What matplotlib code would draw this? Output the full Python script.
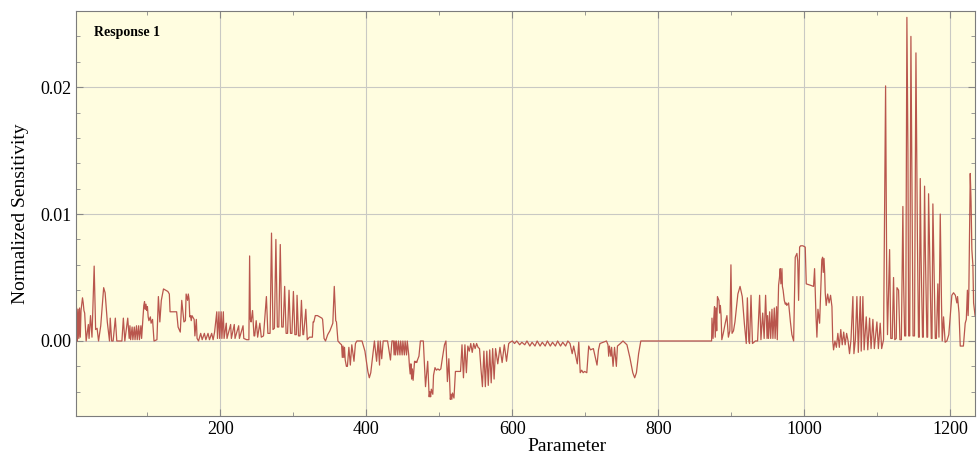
import matplotlib
matplotlib.use("Agg")
import matplotlib.pyplot as plt
from matplotlib.ticker import MultipleLocator, FormatStrFormatter

# vertices, split by region
param_left = [1, 3, 4, 5, 6, 7, 8, 9, 11, 12, 13, 14, 16, 19, 20, 22, 24, 27, 29, 31, 33, 36, 40, 42, 45, 48,
              49, 51, 53, 56, 58, 65, 67, 69, 73, 75, 76, 77, 79, 80, 82, 83, 85, 86, 88, 89, 91, 92, 95, 96, 97,
              98, 99, 100, 101, 102, 104, 105, 107, 109, 113, 115, 117, 119, 122, 125, 128, 130, 131, 135, 140,
              142, 145, 147, 150, 152, 153, 155, 156, 157, 158, 159, 160, 161, 164, 165, 167, 168, 170, 173, 175,
              178, 180, 183, 185, 188, 190, 192, 195, 196, 198, 199, 201, 202, 204, 205, 208, 209, 214, 215, 219,
              220, 225, 226, 231, 232, 236, 239, 240, 241, 242, 244, 246, 247, 249, 251, 254, 256, 259, 263, 265,
              268, 270, 272, 274, 276, 278, 280, 282, 284, 286, 288, 290, 292, 294, 296, 298, 300, 302, 304, 305,
              307, 309, 311, 313, 314, 317, 319, 322, 326, 327, 328, 330, 333, 336, 339, 340, 342, 344, 347, 350,
              354, 356, 358, 359, 361]
sens_left = [0, 0.0026, 0.0, 0.0025, 0.0002, 0.0026, 0.0003, 0.0024, 0.0034, 0.0030, 0.0024, 0.0022, 0, 0.0013,
             0.0002, 0.002, 0.0003, 0.0059, 0.0009, 0.001, 0, 0.0012, 0.0042, 0.0038, 0.0015, 0, 0.0018, 0, 0,
             0.0018, 0, 0, 0.0018, 0, 0.0018, 0.0002, 0.0012, 0.0001, 0.0011, 0.0001, 0.0011, 0.0001, 0.0012,
             0.0001, 0.0012, 0.0001, 0.0012, 0.0002, 0.0028, 0.0031, 0.0025, 0.0029, 0.0024, 0.0027, 0.0019,
             0.0016, 0.0019, 0.0014, 0.0017, 0, 0.0001, 0.0035, 0.0015, 0.0032, 0.0041, 0.0040, 0.0039, 0.0037,
             0.0023, 0.0023, 0.0023, 0.0011, 0.0007, 0.0032, 0.0015, 0.0016, 0.0037, 0.0032, 0.0037, 0.0033,
             0.0019, 0.0020, 0.0016, 0.0020, 0.0017, 0.0004, 0.0017, 0.0002, 0, 0.0006, 0.0001, 0.0006, 0.0001,
             0.0006, 0.0001, 0.0006, 0.0001, 0.0007, 0.0023, 0.0002, 0.0023, 0.0002, 0.0023, 0.0002, 0.0023,
             0.0002, 0.0014, 0.0002, 0.0013, 0.0002, 0.0013, 0.0002, 0.0012, 0.0002, 0.0012, 0.0002, 0.0001,
             0.0001, 0.0067, 0.0017, 0.0015, 0.0024, 0.0004, 0.0004, 0.0016, 0.0003, 0.0014, 0.0003, 0.0004,
             0.0035, 0.0006, 0.0006, 0.0085, 0.0009, 0.0010, 0.0080, 0.0011, 0.0011, 0.0076, 0.0011, 0.0011,
             0.0043, 0.0006, 0.0006, 0.0040, 0.0006, 0.0006, 0.0039, 0.0005, 0.0005, 0.0036, 0.0004, 0.0004,
             0.0032, 0.0005, 0.0005, 0.0025, 0.0001, 0.0003, 0.0003, 0.0015, 0.0015, 0.0020, 0.0020, 0.0019,
             0.0018, 0.0017, 0.0002, 0.0, 0.0005, 0.0008, 0.0014, 0.0043, 0.0016, 0.0015, 0.0]

param_mid = [364, 366, 367, 368, 369, 370, 371, 372.6, 374, 376, 378, 380, 383, 385, 387, 394, 398, 402, 404, 406,
             409, 411, 414, 416, 418, 419, 421, 423, 429, 433, 435, 437, 438, 439, 440, 441, 443, 444, 446, 447,
             449, 450, 452, 453, 455, 456, 458, 459, 460, 461, 462, 463, 464, 466, 467, 468, 469, 470, 472, 474,
             478, 481, 484, 486, 487, 488, 489, 491, 492, 494, 496, 498, 500, 502, 504, 507, 509, 511, 513, 515,
             516, 517, 518, 520, 522, 525, 529, 531, 533, 535, 537, 539, 541, 543, 545, 547, 549, 551, 553, 555,
             557, 559, 561, 563, 565, 567, 569, 571, 573, 575, 577, 580, 583, 586, 589, 592]
sens_mid = [-0.0002, -0.0003, -0.0013, -0.0004, -0.0013, -0.0005, -0.0015, -0.002, -0.0020, -0.0005, -0.0019,
            -0.0003, -0.0016, -0.0002, 0.0, 0.0, -0.0008, -0.0024, -0.0029, -0.0025, -0.001, 0.0, -0.0016, 0,
            -0.0019, 0, -0.0014, 0, 0, -0.0015, 0, 0, -0.0011, 0, -0.0011, 0, -0.0011, 0, -0.0011, 0, -0.0011,
            0, -0.0011, 0, -0.0011, 0, -0.0011, -0.002, -0.0026, -0.0018, -0.003, -0.0022, -0.0031, -0.0016,
            -0.0017, -0.0016, -0.0017, -0.0015, -0.0012, 0, 0, -0.0036, -0.0016, -0.0044, -0.0040, -0.0044,
            -0.0038, -0.0042, -0.0027, -0.0021, -0.0023, -0.0022, -0.0023, -0.0022, -0.0014, -0.0003, 0, -0.0032,
            -0.0014, -0.0046, -0.0042, -0.0046, -0.0041, -0.0045, -0.0024, -0.0024, -0.0024, -0.0003, -0.0029,
            -0.0003, -0.0025, -0.0004, -0.0008, -0.0002, -0.0009, -0.0002, -0.0006, -0.0002, -0.0005, -0.0006,
            -0.0022, -0.0036, -0.0008, -0.0036, -0.0008, -0.0035, -0.0007, -0.0033, -0.0006, -0.0030, -0.0006,
            -0.0018, -0.0005, -0.0017, -0.0003, -0.0016]

param_flat = [595, 597, 600, 603, 606, 610, 613, 617, 620, 624, 627, 631, 634, 638, 641, 645, 648, 652, 655, 659,
              662, 666, 669, 673, 676, 679]
sens_flat = [-0.0002, -0.0001, 0, -0.0002, 0.0, -0.0003, -0.0001, -0.0003, 0.0, -0.0004, -0.0001, -0.0004, 0.0,
             -0.0004, -0.0001, -0.0004, 0.0, -0.0004, -0.0001, -0.0004, 0.0, -0.0004, -0.0001, -0.0004, 0.0,
             -0.0002]

param_dip = [682, 684, 689, 691, 693, 695, 697, 699, 702, 704.6, 707, 711, 716, 718, 720, 729, 731, 732, 733, 735,
             736, 738, 740, 742.5, 744, 748, 751.6, 757, 761, 765, 767.6, 770, 773, 776, 873]
sens_dip = [-0.001, -0.0004, -0.0018, -0.0001, -0.0025, -0.0023, -0.0025, -0.0024, -0.0025, -0.0004, -0.0007,
            -0.0006, -0.0019, -0.0007, -0.0002, 0, -0.0003, -0.0012, -0.0004, -0.0012, -0.0005, -0.002, -0.0005,
            -0.002, -0.0004, -0.0002, 0, -0.0003, -0.0013, -0.0025, -0.0029, -0.0025, -0.001, 0, 0]

param_right = [873.5, 875, 876, 877, 878, 879, 880, 881, 883, 884, 885, 886, 887, 889, 891.7, 894, 896, 898,
               899.5, 901, 903, 905, 909, 912, 915, 918, 920.5, 922, 924, 925, 927, 929, 933, 936, 938.8, 940.6,
               943, 945, 947, 949, 949.7, 951, 952.5, 954, 955.7, 957, 958.9, 960, 962, 963, 964.8, 966, 967, 968,
               969.4, 970, 971, 972.6, 974, 975, 976, 978.5, 981, 983, 985.4, 987.6, 989.9, 991, 992.2, 993.6,
               995, 998, 1001.3, 1002.7, 1008, 1012.7, 1014.1, 1016, 1017.3, 1018.7, 1021, 1022.8, 1024, 1025.1,
               1026, 1027, 1028, 1028.7, 1030, 1032, 1034, 1036, 1037.9, 1039, 1040.1, 1042, 1044, 1046, 1048,
               1050, 1052, 1054, 1056, 1058, 1060, 1062, 1064, 1066.6, 1068, 1070, 1072.1, 1074, 1076.7, 1078,
               1080.3, 1082, 1084.9, 1087, 1089.5, 1091.5, 1094, 1096, 1099.5, 1101.5, 1104, 1106, 1108.6, 1111.4,
               1113, 1114, 1116.9, 1118.5, 1120.5, 1122.3, 1124, 1126, 1127, 1129.2, 1131, 1133, 1135.1, 1136,
               1137.5, 1139, 1140.6, 1142, 1143, 1144.5, 1146.1, 1147.5, 1149, 1151, 1153, 1155, 1156.5, 1157.5,
               1158.9, 1160, 1162, 1163, 1164.8, 1166, 1168, 1169, 1170.3, 1172, 1174, 1175, 1176.2, 1178, 1179.5,
               1181, 1183, 1184.5, 1186.3, 1188, 1189, 1190.8, 1193, 1195.4, 1198, 1200, 1202.2, 1204.5, 1207,
               1209, 1210, 1212, 1213.7, 1218, 1220.5, 1222, 1223.5, 1224.5, 1225.5, 1227.4, 1228.5, 1229.6, 1231,
               1232, 1234]
sens_right = [0.0018, 0.0002, 0.0018, 0.0027, 0.0003, 0.0026, 0.0008, 0.0035, 0.0032, 0.0022, 0.0028, 0.002,
              0.0001, 0.0006, 0.0014, 0.002, 0.0003, 0.0008, 0.006, 0.0006, 0.0008, 0.0015, 0.0037, 0.0043,
              0.0035, 0.0013, -0.0002, 0.0034, 0, -0.0002, 0.0036, -0.0002, 0, 0, 0.0036, 0.0001, 0.0022, 0.0002,
              0.0036, 0.0002, 0.002, 0.0002, 0.0023, 0.0002, 0.0025, 0.0002, 0.0026, 0.0002, 0.0027, 0.0001,
              0.0044, 0.005, 0.0057, 0.0045, 0.0057, 0.0043, 0.0040, 0.0032, 0.0029, 0.003, 0.0028, 0.0030,
              0.0015, 0.0005, 0, 0.0066, 0.0069, 0.0063, 0.0032, 0.0074, 0.0075, 0.0075, 0.0074, 0.0045, 0.0044,
              0.0043, 0.0057, 0.002, 0.0003, 0.0025, 0.0014, 0.0043, 0.0064, 0.0066, 0.0054, 0.0065, 0.0053,
              0.0038, 0.0028, 0.0037, 0.0030, 0.0036, 0.0027, 0, -0.0007, 0, -0.0005, 0.0006, -0.0005, 0.0009,
              -0.0003, 0.0007, -0.0003, 0.0006, 0, -0.0010, 0.0001, 0.0035, -0.0010, 0.0001, 0.0035, -0.0009,
              0.0035, -0.0008, 0.0035, -0.0007, 0.0019, -0.0007, 0.0018, -0.0006, 0.0017, -0.0006, 0.0015,
              -0.0006, 0.0014, -0.0006, 0.0001, 0.0201, 0.0045, 0.0005, 0.0072, 0.0002, 0.0002, 0.0050, 0.0001,
              0.0002, 0.0042, 0.0040, 0.0001, 0.0001, 0.0106, 0.0050, 0.0004, 0.0004, 0.0255, 0.015, 0.0004,
              0.0004, 0.0240, 0.0125, 0.0004, 0.0004, 0.0227, 0.0080, 0.0003, 0.0003, 0.0128, 0.0068, 0.0003,
              0.0003, 0.0122, 0.0066, 0.0003, 0.0003, 0.0116, 0.0062, 0.0002, 0.0002, 0.0108, 0.0050, 0.0002,
              0.0002, 0.0045, 0.0003, 0.0100, 0.0030, 0, 0.0019, -0.0001, 0, 0.0005, 0.0020, 0.0036, 0.0038,
              0.0036, 0.0030, 0.0035, 0.0022, -0.0004, -0.0004, 0.0014, 0.0017, 0.0040, 0.0020, 0.004, 0.0132,
              0.0110, 0.0072, 0.0060, 0.0030, 0.0020]

param = param_left + param_mid + param_flat + param_dip + param_right
sens = sens_left + sens_mid + sens_flat + sens_dip + sens_right

plt.rcParams["font.family"] = ["Liberation Serif", "DejaVu Serif"]

fig = plt.figure(figsize=(9.78, 4.59), dpi=100)
ax = fig.add_axes([0.078, 0.094, 0.919, 0.882])
ax.set_facecolor("#fffde0")

ax.plot(param, sens, color="#b9564d", lw=0.9)

ax.set_xlim(2.5, 1234)
ax.set_ylim(-0.0059, 0.026)
ax.xaxis.set_major_locator(MultipleLocator(200))
ax.xaxis.set_minor_locator(MultipleLocator(100))
ax.yaxis.set_major_locator(MultipleLocator(0.01))
ax.yaxis.set_minor_locator(MultipleLocator(0.002))
ax.yaxis.set_major_formatter(FormatStrFormatter("%.2f"))
ax.tick_params(which="both", direction="in", top=True, right=True, color="#888888", labelsize=13)
ax.tick_params(which="major", length=5)
ax.tick_params(which="minor", length=3)
ax.grid(True, which="major", color="#c9c9c4", lw=0.8)
ax.set_axisbelow(True)
for s in ax.spines.values():
    s.set_color("#7c7c7c")

ax.set_xlabel("Parameter", fontsize=14, labelpad=2)
ax.xaxis.set_label_coords(0.546, -0.055)
ax.set_ylabel("Normalized Sensitivity", fontsize=14, labelpad=8)
ax.text(0.02, 0.948, "Response 1", transform=ax.transAxes, fontsize=10, fontweight="bold",
        va="center", ha="left")

fig.savefig("out.png", dpi=100)
